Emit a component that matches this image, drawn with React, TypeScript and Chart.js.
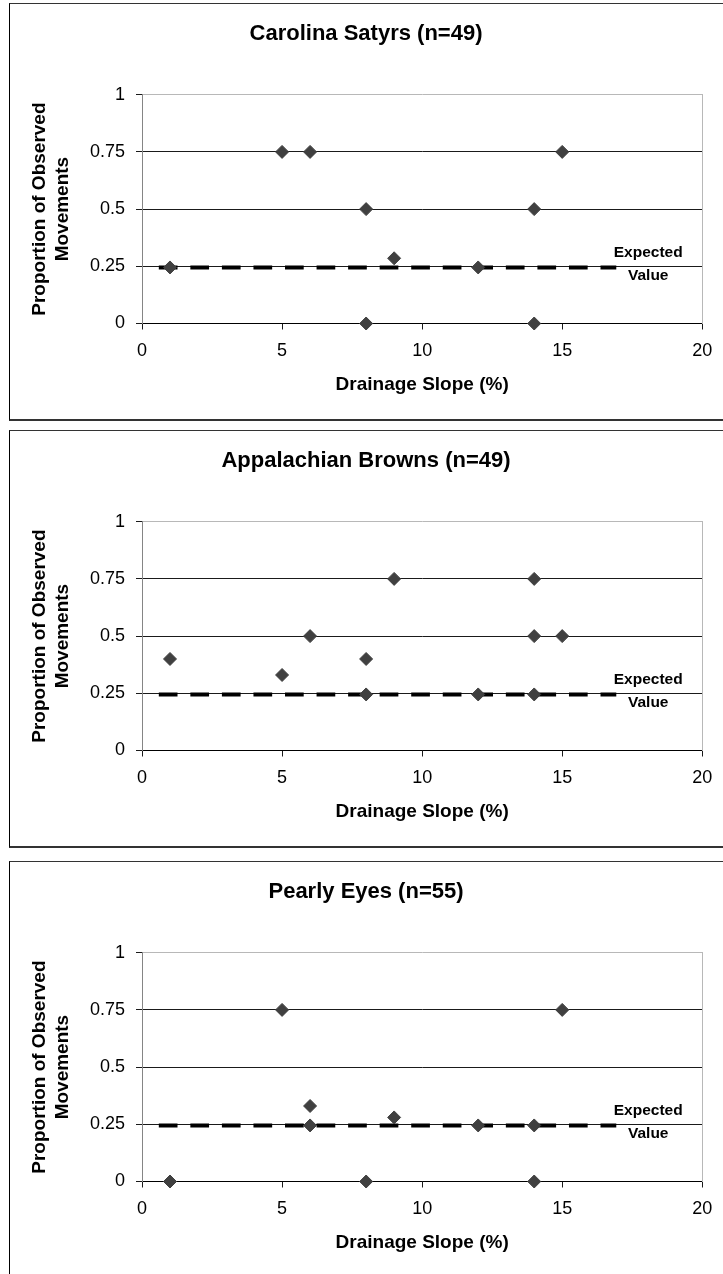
import React, { useEffect, useRef } from 'react';
import { Chart, registerables } from 'chart.js';

Chart.register(...registerables);

const FONT = "'Liberation Sans', Arial, Helvetica, sans-serif";

// ---- data ----
const xTickValues = [0, 5, 10, 15, 20];
const yTickValues = [0, 0.25, 0.5, 0.75, 1];
const yTickLabels = ['0', '0.25', '0.5', '0.75', '1'];

const panelTitles = ['Carolina Satyrs (n=49)', 'Appalachian Browns (n=49)', 'Pearly Eyes (n=55)'];

const satyrsSlope = [1, 5, 6, 8, 8, 9, 12, 14, 14, 15];
const satyrsProp = [0.245, 0.75, 0.75, 0.5, 0, 0.285, 0.245, 0.5, 0, 0.75];

const brownsSlope = [1, 5, 6, 8, 8, 9, 12, 14, 14, 14, 15];
const brownsProp = [0.4, 0.33, 0.5, 0.4, 0.245, 0.75, 0.245, 0.75, 0.5, 0.245, 0.5];

const eyesSlope = [1, 5, 6, 6, 8, 9, 12, 14, 14, 15];
const eyesProp = [0, 0.75, 0.33, 0.245, 0, 0.28, 0.245, 0.245, 0, 0.75];

const expectedSlope = [0.6, 16.93];
const expectedProp = [0.245, 0.245];
const expectedLabel = ['Expected', 'Value'];

const xAxisTitle = 'Drainage Slope (%)';
const yAxisTitle = ['Proportion of Observed', 'Movements'];

// ---- layout constants ----
const PANEL_TOPS = [3, 430, 861];
const CANVAS_LEFT = 9;
const CANVAS_W = 714;
const CANVAS_H = 418;
const CHART_TOP = 91.7;
const CHART_BOTTOM = 320.5;

const expectedTextPlugin = {
  id: 'expectedText',
  afterDatasetsDraw(chart: any) {
    const { ctx, scales } = chart;
    const px = scales.x.getPixelForValue(18.07);
    const py = scales.y.getPixelForValue(0.25);
    ctx.save();
    ctx.font = `bold 15.5px ${FONT}`;
    ctx.fillStyle = '#000';
    ctx.textAlign = 'center';
    ctx.textBaseline = 'alphabetic';
    ctx.fillText(expectedLabel[0], px, py - 9);
    ctx.fillText(expectedLabel[1], px, py + 13.6);
    ctx.restore();
  },
};

function Panel({ title, xs, ys, top }: { title: string; xs: number[]; ys: number[]; top: number }) {
  const ref = useRef<HTMLCanvasElement | null>(null);

  useEffect(() => {
    if (!ref.current) return;
    const chart = new Chart(ref.current, {
      type: 'scatter',
      data: {
        datasets: [
          {
            type: 'scatter',
            data: xs.map((x, i) => ({ x, y: ys[i] })),
            pointStyle: 'rectRot',
            pointRadius: 6.5,
            pointHoverRadius: 6.5,
            backgroundColor: '#404040',
            borderColor: '#404040',
            borderWidth: 1,
            clip: false,
            order: 0,
          } as any,
          {
            type: 'line',
            data: expectedSlope.map((x, i) => ({ x, y: expectedProp[i] })),
            borderColor: '#000',
            borderWidth: 4,
            borderDash: [18.7, 12.85],
            borderCapStyle: 'butt',
            pointRadius: 0,
            pointHoverRadius: 0,
            fill: false,
            showLine: true,
            clip: false,
            order: 1,
          } as any,
        ],
      },
      options: {
        animation: false,
        responsive: false,
        devicePixelRatio: 1,
        events: [],
        layout: { padding: 0 },
        font: { family: FONT },
        plugins: {
          legend: { display: false },
          tooltip: { enabled: false },
          title: {
            display: true,
            text: title,
            color: '#000',
            font: { family: FONT, size: 22, weight: 'bold', lineHeight: 1.2 },
            padding: { top: 17.3, bottom: CHART_TOP - 17.3 - 26.4 },
          },
        },
        scales: {
          x: {
            type: 'linear',
            position: 'bottom',
            min: 0,
            max: 20,
            afterBuildTicks: (s: any) => {
              s.ticks = xTickValues.map((v) => ({ value: v }));
            },
            ticks: {
              color: '#000',
              font: { family: FONT, size: 18 },
              padding: 10.7,
              maxRotation: 0,
              autoSkip: false,
            },
            grid: { drawOnChartArea: false, drawTicks: true, tickLength: 6, color: '#1a1a1a' },
            border: { display: true, color: '#000', width: 1 },
            title: {
              display: true,
              text: xAxisTitle,
              color: '#000',
              font: { family: FONT, size: 19, weight: 'bold', lineHeight: 1.2 },
              padding: { top: 0, bottom: 24.6 },
            },
            afterFit: (s: any) => {
              s.height = CANVAS_H - CHART_BOTTOM;
            },
          },
          y: {
            type: 'linear',
            position: 'left',
            min: 0,
            max: 1,
            afterBuildTicks: (s: any) => {
              s.ticks = yTickValues.map((v) => ({ value: v }));
            },
            ticks: {
              color: '#000',
              font: { family: FONT, size: 18 },
              padding: 11,
              autoSkip: false,
              callback: (v: any) => yTickLabels[yTickValues.indexOf(Number(v))],
            },
            grid: {
              drawTicks: true,
              tickLength: 6,
              color: (c: any) => (c.tick && c.tick.value === 1 ? '#b8b8b8' : '#1a1a1a'),
              tickColor: '#1a1a1a',
            },
            border: { display: true, color: '#858585', width: 1 },
            title: {
              display: true,
              text: yAxisTitle,
              color: '#000',
              font: { family: FONT, size: 19, weight: 'bold', lineHeight: 1.2 },
              padding: { top: 19.6, bottom: 0 },
            },
            afterFit: (s: any) => {
              s.width = 142 - CANVAS_LEFT;
            },
          },
          y2: {
            type: 'linear',
            position: 'right',
            min: 0,
            max: 1,
            ticks: { display: false },
            grid: { display: false, drawTicks: false },
            border: { display: true, color: '#b8b8b8', width: 1 },
            afterFit: (s: any) => {
              s.width = CANVAS_LEFT + CANVAS_W - 705;
            },
          },
        },
      } as any,
      plugins: [expectedTextPlugin],
    });
    return () => chart.destroy();
  }, [title, xs, ys]);

  return (
    <>
      <canvas
        ref={ref}
        width={CANVAS_W}
        height={CANVAS_H}
        style={{ position: 'absolute', left: CANVAS_LEFT, top, width: CANVAS_W, height: CANVAS_H }}
      />
      <div
        style={{
          position: 'absolute',
          left: CANVAS_LEFT,
          top,
          width: 740,
          height: CANVAS_H,
          boxSizing: 'border-box',
          borderLeft: '1px solid #000',
          borderTop: '1px solid #333',
          borderBottom: '2px solid #333',
          pointerEvents: 'none',
        }}
      />
    </>
  );
}

export default function App() {
  return (
    <div
      style={{
        position: 'absolute',
        left: 0,
        top: 0,
        width: 723,
        height: 1274,
        overflow: 'hidden',
        background: '#fff',
      }}
    >
      <Panel title={panelTitles[0]} xs={satyrsSlope} ys={satyrsProp} top={PANEL_TOPS[0]} />
      <Panel title={panelTitles[1]} xs={brownsSlope} ys={brownsProp} top={PANEL_TOPS[1]} />
      <Panel title={panelTitles[2]} xs={eyesSlope} ys={eyesProp} top={PANEL_TOPS[2]} />
    </div>
  );
}
